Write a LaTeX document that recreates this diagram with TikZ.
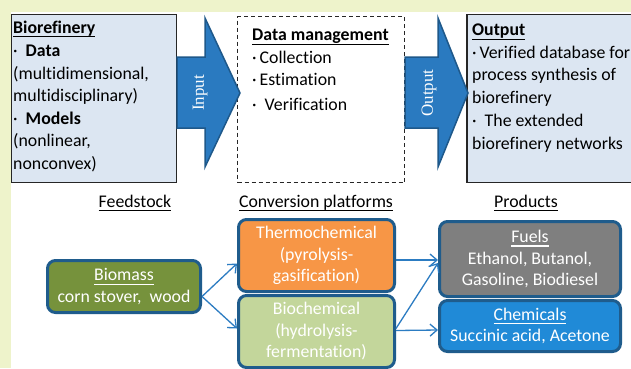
\documentclass[tikz,border=0pt]{standalone}
\usepackage{fontspec}
\setmainfont{Carlito}[Ligatures=NoCommon]
\newfontfamily\serifarrow{Liberation Serif}
\usetikzlibrary{positioning,calc,arrows.meta}

% underline with a fixed rule below the baseline
\newcommand\ulbar[1]{\leavevmode\setbox0\hbox{#1}\rlap{\rule[-4pt]{\wd0}{1.1pt}}\box0}

\definecolor{paleyellow}{RGB}{238,243,203}
\definecolor{paleblue}{RGB}{220,230,242}
\definecolor{blockfill}{RGB}{42,122,192}
\definecolor{blockedge}{RGB}{30,88,138}
\definecolor{boxedge}{RGB}{31,92,140}
\definecolor{biomassgreen}{RGB}{118,146,60}
\definecolor{thermoorange}{RGB}{247,150,70}
\definecolor{biogreen}{RGB}{195,214,155}
\definecolor{fuelgray}{RGB}{127,127,127}
\definecolor{chemblue}{RGB}{32,138,215}
\definecolor{linkblue}{RGB}{44,124,194}

\tikzset{
  topbox/.style={draw=black!85, line width=1.3pt, fill=paleblue},
  boxtext/.style={anchor=north west, align=left, inner sep=0pt},
  blockarrow/.style={fill=blockfill, draw=blockedge, line width=1.5pt},
  arrowlabel/.style={rotate=90, text=white, font=\serifarrow\fontsize{17}{17}\selectfont},
  heading/.style={inner sep=0pt},
  flowbox/.style={draw=boxedge, line width=3pt, rounded corners=8pt, text=white,
    align=center, font=\fontsize{17.8}{21.5}\selectfont},
  flowarrow/.style={draw=linkblue, line width=1.3pt,
    -{Straight Barb[length=7pt,width=12pt]}},
}

\begin{document}
\begin{tikzpicture}[x=1pt,y=-1pt,font=\fontsize{17.8}{22.5}\selectfont]
\fill[paleyellow] (0,0) rectangle (631,368);
\fill[white] (11,12) rectangle (631,368);
\useasboundingbox (0,0) rectangle (631,368);

% upper row
\node[topbox, minimum width=165, minimum height=168] (bio) at (94,98.5) {};
\node[topbox, fill=white, dash pattern=on 4pt off 3pt, minimum width=167, minimum height=166] (dm) at (321,99.5) {};
\node[topbox, minimum width=178, minimum height=168] (out) at (556,98.5) {};

\node[boxtext] (biotext) at (13,20.5) {\ulbar{\textbf{Biorefinery}}\\[1pt]
  ·\ \ \textbf{Data}\\(multidimensional,\\multidisciplinary)\\
  ·\ \ \textbf{Models}\\(nonlinear,\\nonconvex)};
\node[boxtext] (dmtext) at (252,29) {\ulbar{\textbf{Data management}}\\
  ·\,Collection\\·\,Estimation\\[2pt]·\ \ Verification};
\node[boxtext] (outtext) at (472,24) {\ulbar{\textbf{Output}}\\
  ·\,Verified database for\\process synthesis of\\biorefinery\\[1pt]
  ·\ \ The extended\\biorefinery networks};

\draw[blockarrow] (177,57) -- (205,57) -- (205,18) -- (240,93) -- (205,167) -- (205,128) -- (177,128) -- cycle;
\draw[blockarrow] (405,57) -- (438,57) -- (438,18) -- (468,93) -- (438,167) -- (438,128) -- (405,128) -- cycle;
\node[arrowlabel] (inlabel) at (200,93) {Input};
\node[arrowlabel] (outlabel) at (429,93) {Output};

% lower row
\node[heading] (feedhead) at (135,203) {\ulbar{Feedstock}};
\node[heading] (convhead) at (316,203) {\ulbar{Conversion platforms}};
\node[heading] (prodhead) at (526,203) {\ulbar{Products}};

\node[flowbox, fill=biomassgreen, minimum width=153, minimum height=52] (biomass) at (124,286.5)
  {\ulbar{Biomass}\\corn stover,\ \ wood};
\node[flowbox, fill=thermoorange, minimum width=156, minimum height=72] (thermo) at (316.5,255.5)
  {Thermochemical\\(pyrolysis-\\gasification)};
\node[flowbox, fill=biogreen, minimum width=156, minimum height=72] (biochem) at (316.5,331.5)
  {Biochemical\\(hydrolysis-\\fermentation)};
\node[flowbox, fill=fuelgray, minimum width=181, minimum height=75] (fuels) at (530,259)
  {\ulbar{Fuels}\\Ethanol, Butanol,\\Gasoline, Biodiesel};
\node[flowbox, fill=chemblue, minimum width=181, minimum height=51] (chems) at (530,326)
  {\ulbar{Chemicals}\\Succinic acid, Acetone};

\coordinate (fork) at ($(biomass.east)+(0,10)$);
\draw[flowarrow] (fork) -- ($(thermo.west)+(0,8)$);
\draw[flowarrow] (fork) -- ($(biochem.west)+(0,-3)$);
\draw[flowarrow] ($(thermo.east)+(0,4.5)$) -- ($(fuels.west)+(0,1)$);
\draw[flowarrow] ($(biochem.east)+(0,-3)$) -- ($(fuels.west)+(0,4)$);
\draw[flowarrow] ($(biochem.east)+(0,-1)$) -- ($(chems.west)+(0,4)$);
\end{tikzpicture}
\end{document}
